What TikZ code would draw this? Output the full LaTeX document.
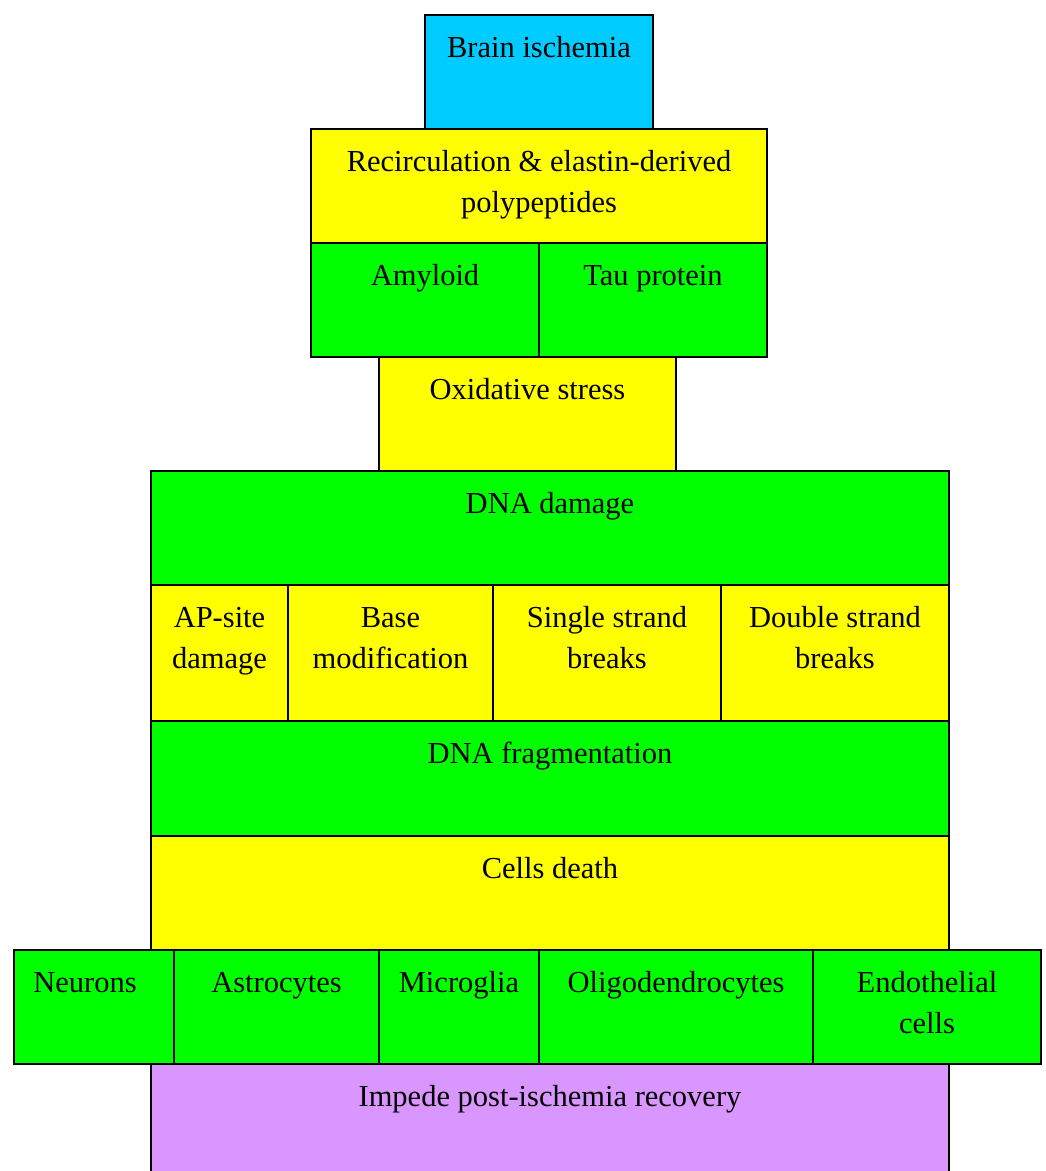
\documentclass[tikz,border=0pt]{standalone}
\usepackage{fontspec}
\setmainfont{Liberation Serif}
\usepackage{xcolor}
\usepackage{tikz}

\definecolor{skyblue}{HTML}{00CCFF}
\definecolor{boxyellow}{HTML}{FFFF00}
\definecolor{boxgreen}{HTML}{00FF00}
\definecolor{boxviolet}{HTML}{DA96FF}

% text nodes sit on the baseline of their last line
\tikzset{
	lbl/.style={anchor=base, align=center, inner sep=0pt,
		font=\fontsize{30.5}{41.5}\selectfont}
}

\begin{document}
\begin{tikzpicture}[x=1pt,y=-1pt,line width=1.5pt]
	\useasboundingbox (0,0) rectangle (1046,1171);
	\begin{scope}
	\clip (0,0) rectangle (1046,1171);
	% top of the stack
	\draw[fill=skyblue] (425,15) rectangle (653,129);
	\path (539,57) node[lbl] (brain) {Brain ischemia};
	\draw[fill=boxyellow] (311,129) rectangle (767,243);
	\path (539,212.5) node[lbl] (recirc) {Recirculation \& elastin-derived\\polypeptides};
	\draw[fill=boxgreen] (311,243) rectangle (539,357);
	\path (425,285) node[lbl] (amyloid) {Amyloid};
	\draw[fill=boxgreen] (539,243) rectangle (767,357);
	\path (653,285) node[lbl] (tau) {Tau protein};
	\draw[fill=boxyellow] (379,357) rectangle (676,471);
	\path (527.5,399) node[lbl] (oxid) {Oxidative stress};
	% DNA damage block
	\draw[fill=boxgreen] (151,471) rectangle (949,585);
	\path (550,513) node[lbl] (dnadmg) {DNA damage};
	\draw[fill=boxyellow] (151,585) rectangle (288,721);
	\path (219.5,668.5) node[lbl] (apsite) {AP-site\\damage};
	\draw[fill=boxyellow] (288,585) rectangle (493,721);
	\path (390.5,668.5) node[lbl] (basemod) {Base\\modification};
	\draw[fill=boxyellow] (493,585) rectangle (721,721);
	\path (607,668.5) node[lbl] (single) {Single strand\\breaks};
	\draw[fill=boxyellow] (721,585) rectangle (949,721);
	\path (835,668.5) node[lbl] (double) {Double strand\\breaks};
	\draw[fill=boxgreen] (151,721) rectangle (949,836);
	\path (550,763) node[lbl] (frag) {DNA fragmentation};
	\draw[fill=boxyellow] (151,836) rectangle (949,950);
	\path (550,878) node[lbl] (death) {Cells death};
	% cell types
	\draw[fill=boxgreen] (14,950) rectangle (174,1064);
	\path (85,992) node[lbl] (neurons) {Neurons};
	\draw[fill=boxgreen] (174,950) rectangle (379,1064);
	\path (276.5,992) node[lbl] (astro) {Astrocytes};
	\draw[fill=boxgreen] (379,950) rectangle (539,1064);
	\path (459,992) node[lbl] (micro) {Microglia};
	\draw[fill=boxgreen] (539,950) rectangle (813,1064);
	\path (676,992) node[lbl] (oligo) {Oligodendrocytes};
	\draw[fill=boxgreen] (813,950) rectangle (1041,1064);
	\path (927,1033.5) node[lbl] (endo) {Endothelial\\cells};
	% outcome
	\draw[fill=boxviolet] (151,1064) rectangle (949,1180);
	\path (550,1106) node[lbl] (impede) {Impede post-ischemia recovery};
	\end{scope}
\end{tikzpicture}
\end{document}
